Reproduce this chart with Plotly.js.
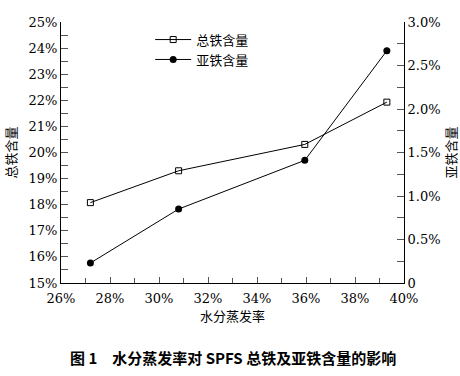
<!DOCTYPE html>
<html><head><meta charset="utf-8">
<script src="https://cdn.plot.ly/plotly-3.0.1.min.js"></script>
<style>body{margin:0;background:#fff}#c{width:460px;height:376px}</style>
</head><body><div id="c"></div>
<script>
var evapRate = [27.2, 30.8, 35.95, 39.3];
var totalIron = [18.08, 19.30, 20.31, 21.93];
var ferrousIron = [0.23, 0.85, 1.41, 2.67];
var leftTicks = [15,16,17,18,19,20,21,22,23,24,25];
var leftTickText = ['15%','16%','17%','18%','19%','20%','21%','22%','23%','24%','25%'];
var rightTicks = [0,0.5,1.0,1.5,2.0,2.5,3.0];
var rightTickText = ['0','0.5%','1.0%','1.5%','2.0%','2.5%','3.0%'];
var xTicks = [26,28,30,32,34,36,38,40];
var xTickText = ['26%','28%','30%','32%','34%','36%','38%','40%'];

var serif = 'DejaVu Serif';
var cjk = 'Noto Sans CJK SC';

var traces = [
  {x: evapRate, y: totalIron, name: '总铁含量', type: 'scatter', mode: 'lines+markers',
   line: {color: '#000', width: 1}, marker: {symbol: 'square-open', size: 6, color: '#000', line: {width: 1}}},
  {x: evapRate, y: ferrousIron, name: '亚铁含量', type: 'scatter', mode: 'lines+markers', yaxis: 'y2',
   line: {color: '#000', width: 1}, marker: {symbol: 'circle', size: 7, color: '#000'}}
];

var layout = {
  width: 460, height: 376,
  margin: {l: 61, r: 56, t: 22, b: 93},
  paper_bgcolor: '#fff', plot_bgcolor: '#fff',
  font: {family: serif, size: 13, color: '#000'},
  showlegend: true,
  legend: {x: 0.26, y: 0.99, xanchor: 'left', yanchor: 'top', bgcolor: 'rgba(0,0,0,0)',
           font: {family: cjk, size: 13, color: '#000'}, tracegroupgap: 6, itemwidth: 36},
  xaxis: {range: [26, 40], tickvals: xTicks, ticktext: xTickText, showgrid: false, zeroline: false,
          showline: true, linecolor: '#000', linewidth: 1, ticks: 'inside', ticklen: 6, tickcolor: '#555',
          ticklabelstandoff: 3,
          minor: {dtick: 1, ticks: 'inside', ticklen: 5, tickcolor: '#555'},
          tickfont: {family: serif, size: 13},
          title: {text: '水分蒸发率', font: {family: cjk, size: 13}, standoff: 0}},
  yaxis: {range: [15, 25], tickvals: leftTicks, ticktext: leftTickText, showgrid: false, zeroline: false,
          showline: true, linecolor: '#000', linewidth: 1, ticks: 'inside', ticklen: 7, tickcolor: '#555',
          minor: {dtick: 0.5, ticks: 'inside', ticklen: 7, tickcolor: '#555'},
          tickfont: {family: serif, size: 13},
          title: {text: '总铁含量', font: {family: cjk, size: 13}, standoff: 8}},
  yaxis2: {range: [0, 3], overlaying: 'y', side: 'right', tickvals: rightTicks, ticktext: rightTickText,
          showgrid: false, zeroline: false, showline: true, linecolor: '#000', linewidth: 1,
          ticks: 'inside', ticklen: 7, tickcolor: '#555', ticklabelstandoff: 0,
          minor: {dtick: 0.25, ticks: 'inside', ticklen: 7, tickcolor: '#555'},
          tickfont: {family: serif, size: 13},
          title: {text: '亚铁含量', font: {family: cjk, size: 13}, standoff: 8}},
  annotations: [{xref: 'paper', yref: 'paper', x: 0.5, y: -0.285, xanchor: 'center', yanchor: 'middle',
    showarrow: false, text: '<b>图 1　水分蒸发率对 SPFS 总铁及亚铁含量的影响</b>',
    font: {family: cjk, size: 15, color: '#000'}}]
};
Plotly.newPlot('c', traces, layout, {displayModeBar: false, staticPlot: true});
</script></body></html>
